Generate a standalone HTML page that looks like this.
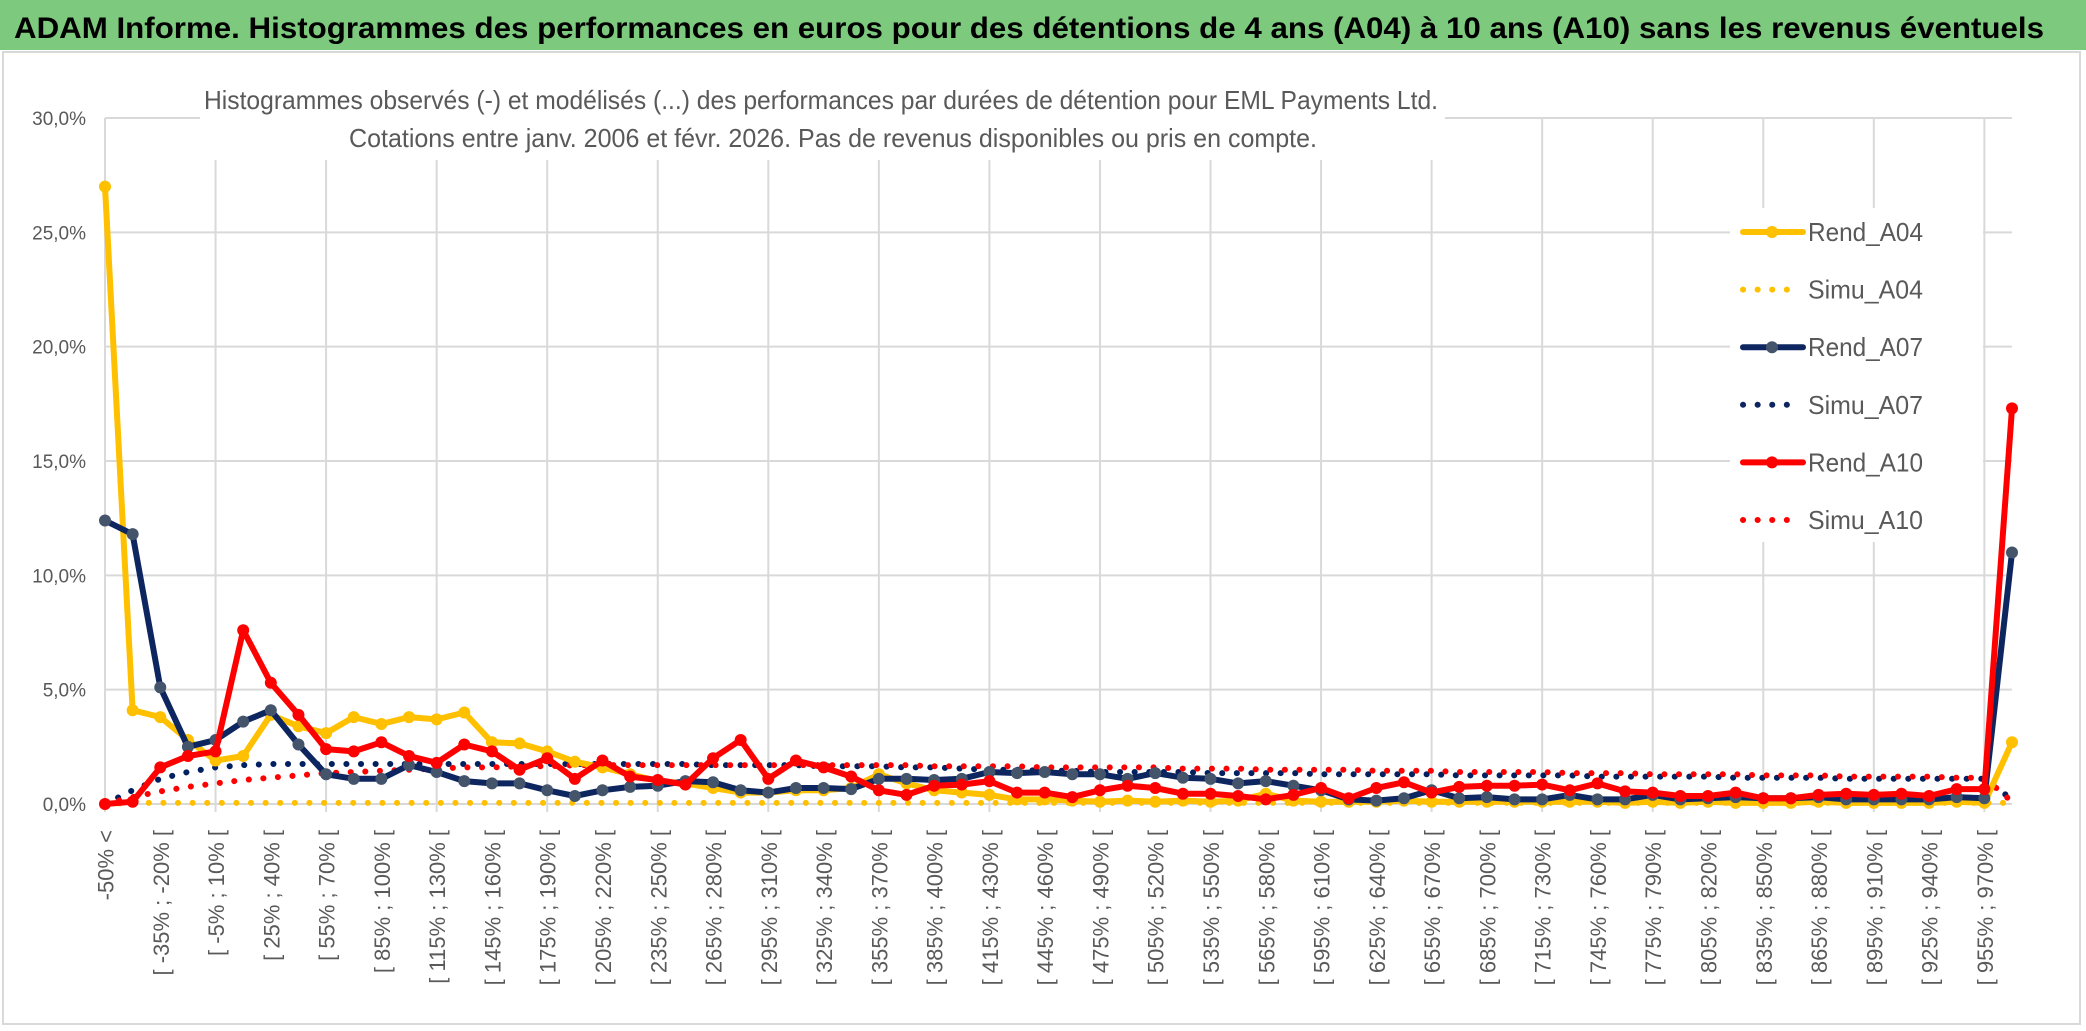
<!DOCTYPE html>
<html><head><meta charset="utf-8"><style>
html,body{margin:0;padding:0;background:#fff;}
svg{display:block;font-family:"Liberation Sans",sans-serif;}
</style></head><body>
<svg id="chart" width="2086" height="1031" viewBox="0 0 2086 1031">
<rect x="0" y="0" width="2086" height="1031" fill="#fff"/>
<rect x="0" y="0" width="2086" height="50" fill="#7DC97E"/>
<text x="14" y="38" font-size="30" font-weight="bold" fill="#000" textLength="2030" lengthAdjust="spacingAndGlyphs">ADAM Informe. Histogrammes des performances en euros pour des détentions de 4 ans (A04) à 10 ans (A10) sans les revenus éventuels</text>
<rect x="3" y="52" width="2077" height="972" fill="none" stroke="#d9d9d9" stroke-width="2"/>
<g id="grid"></g>
<rect x="200" y="60" width="1245" height="100" fill="#fff"/>
<text x="821" y="109" font-size="26" fill="#595959" text-anchor="middle" textLength="1234" lengthAdjust="spacingAndGlyphs">Histogrammes observés (-) et modélisés (...) des performances par durées de détention pour EML Payments Ltd.</text>
<text x="833" y="147" font-size="26" fill="#595959" text-anchor="middle" textLength="968" lengthAdjust="spacingAndGlyphs">Cotations entre janv. 2006 et févr. 2026. Pas de revenus disponibles ou pris en compte.</text>
<g id="yaxis"></g>
<g id="xaxis"></g>
<g id="series"></g>
<rect x="1730" y="208" width="253" height="334" fill="#fff"/>
<g id="legend"></g>
</svg>
<script>
const categories = (function(){const a=["-50% <"];for(let k=1;k<=69;k++){const lo=-50+15*(k-1);a.push("[ "+lo+"% ; "+(lo+15)+"% [");}return a;})();
const yTicks = [0,5,10,15,20,25,30];
const yTickLabels = ["0,0%","5,0%","10,0%","15,0%","20,0%","25,0%","30,0%"];
const rendA04 = [27.0,4.1,3.8,2.8,1.9,2.1,3.9,3.4,3.1,3.8,3.5,3.8,3.7,4.0,2.7,2.65,2.3,1.85,1.6,1.3,1.0,0.9,0.7,0.5,0.5,0.6,0.6,0.7,1.3,0.9,0.6,0.5,0.4,0.2,0.2,0.15,0.1,0.15,0.1,0.15,0.1,0.15,0.45,0.15,0.1,0.1,0.1,0.15,0.1,0.1,0.1,0.1,0.1,0.1,0.1,0.05,0.1,0.05,0.1,0.05,0.05,0.05,0.1,0.05,0.05,0.05,0.05,0.1,0.05,2.7];
const simuA04 = [0,0.05,0.05,0.05,0.05,0.05,0.05,0.05,0.05,0.05,0.05,0.05,0.05,0.05,0.05,0.05,0.05,0.05,0.05,0.05,0.05,0.05,0.05,0.05,0.05,0.05,0.05,0.05,0.05,0.05,0.05,0.05,0.05,0.05,0.05,0.05,0.05,0.05,0.05,0.05,0.05,0.05,0.05,0.05,0.05,0.05,0.05,0.05,0.05,0.05,0.05,0.05,0.05,0.05,0.05,0.05,0.05,0.05,0.05,0.05,0.05,0.05,0.05,0.05,0.05,0.05,0.05,0.05,0.05,0.05];
const rendA07 = [12.4,11.8,5.1,2.5,2.8,3.6,4.1,2.6,1.3,1.1,1.1,1.7,1.4,1.0,0.9,0.9,0.6,0.35,0.6,0.75,0.8,1.0,0.95,0.6,0.5,0.7,0.7,0.65,1.1,1.1,1.05,1.1,1.4,1.35,1.4,1.3,1.3,1.1,1.35,1.15,1.1,0.9,1.0,0.8,0.6,0.2,0.15,0.25,0.6,0.25,0.3,0.2,0.2,0.4,0.2,0.2,0.4,0.2,0.25,0.3,0.25,0.25,0.3,0.2,0.2,0.2,0.2,0.3,0.25,11.0];
const simuA07 = [0,0.6,1.1,1.4,1.6,1.7,1.75,1.75,1.75,1.75,1.75,1.75,1.75,1.75,1.75,1.75,1.75,1.75,1.75,1.75,1.75,1.75,1.7,1.7,1.7,1.7,1.65,1.65,1.65,1.6,1.6,1.55,1.5,1.5,1.45,1.45,1.4,1.4,1.4,1.4,1.35,1.35,1.35,1.35,1.3,1.3,1.3,1.3,1.3,1.25,1.25,1.25,1.25,1.25,1.2,1.2,1.2,1.2,1.2,1.15,1.15,1.15,1.15,1.1,1.1,1.1,1.1,1.1,1.1,0.2];
const rendA10 = [0.0,0.1,1.6,2.1,2.3,7.6,5.3,3.9,2.4,2.3,2.7,2.1,1.8,2.6,2.3,1.5,2.0,1.1,1.9,1.2,1.05,0.85,2.0,2.8,1.1,1.9,1.6,1.2,0.6,0.4,0.8,0.85,1.0,0.5,0.5,0.3,0.6,0.8,0.7,0.45,0.45,0.35,0.2,0.4,0.7,0.25,0.7,0.95,0.5,0.75,0.8,0.8,0.85,0.6,0.9,0.55,0.5,0.35,0.35,0.5,0.25,0.25,0.4,0.45,0.4,0.45,0.35,0.65,0.65,17.3];
const simuA10 = [0,0.3,0.55,0.75,0.9,1.05,1.15,1.25,1.35,1.4,1.45,1.5,1.55,1.6,1.6,1.65,1.65,1.7,1.7,1.7,1.7,1.7,1.7,1.7,1.7,1.7,1.7,1.7,1.7,1.7,1.65,1.65,1.65,1.65,1.6,1.6,1.6,1.6,1.6,1.55,1.55,1.55,1.5,1.5,1.5,1.5,1.45,1.45,1.45,1.4,1.4,1.4,1.4,1.35,1.35,1.35,1.3,1.3,1.3,1.3,1.25,1.25,1.25,1.2,1.2,1.2,1.2,1.15,1.15,0.1];
const seriesNames = ["Rend_A04","Simu_A04","Rend_A07","Simu_A07","Rend_A10","Simu_A10"];

const NS="http://www.w3.org/2000/svg";
const X0=105, X1=2012, Y0=804, YMAX=30, YTOP=118;
const n=categories.length;
function xs(i){return X0+(X1-X0)*i/(n-1);}
function ys(v){return Y0-(Y0-YTOP)*v/YMAX;}
function mk(tag,attrs,parent){const e=document.createElementNS(NS,tag);for(const k in attrs)e.setAttribute(k,attrs[k]);parent.appendChild(e);return e;}

const grid=document.getElementById('grid');
yTicks.forEach((t,i)=>{
  const l=mk('line',{x1:X0,x2:X1,y1:ys(t),y2:ys(t),stroke:'#d9d9d9','stroke-width':2},grid);
  
  
});
for(let i=0;i<n;i+=4){
  const l=mk('line',{x1:xs(i),x2:xs(i),y1:YTOP,y2:Y0+8,stroke:'#d9d9d9','stroke-width':2},grid);
  
  
}
const yaxis=document.getElementById('yaxis');
yTicks.forEach((t,i)=>{
  const tx=mk('text',{x:86,y:ys(t)+7,'font-size':19,fill:'#595959','text-anchor':'end'},yaxis);
  tx.textContent=yTickLabels[i];
  
  
});
const xaxis=document.getElementById('xaxis');
for(let i=0;i<n-1;i+=2){
  const x=xs(i)+1;
  const tx=mk('text',{x:0,y:0,'font-size':22,fill:'#595959','text-anchor':'end','dominant-baseline':'central',transform:'translate('+x+',830) rotate(-90)'},xaxis);
  tx.textContent=categories[i];
  
  
}
const sg=document.getElementById('series');
function pts(arr){return arr.map((v,i)=>xs(i).toFixed(1)+','+ys(v).toFixed(1)).join(' ');}
function dotted(arr,color,name){
  const p=mk('polyline',{points:pts(arr),fill:'none',stroke:color,'stroke-width':6,'stroke-linecap':'round','stroke-dasharray':'0.1 14.5'},sg);
  
  
}
function solid(arr,color,mcolor,name){
  const g=mk('g',{},sg);
  
  
  mk('polyline',{points:pts(arr),fill:'none',stroke:color,'stroke-width':6,'stroke-linejoin':'round'},g);
  arr.forEach((v,i)=>{
    const c=mk('circle',{cx:xs(i),cy:ys(v),r:6,fill:mcolor},g);
    
    
  });
}
dotted(simuA04,'#FFC000','simu-a04-line');
dotted(simuA07,'#002060','simu-a07-line');
dotted(simuA10,'#FF0000','simu-a10-line');
solid(rendA04,'#FFC000','#FFC000','rend-a04-line');
solid(rendA07,'#0E2660','#44546A','rend-a07-line');
solid(rendA10,'#FF0000','#FF0000','rend-a10-line');

const lg=document.getElementById('legend');
const lcolors=['#FFC000','#FFC000','#0E2660','#0E2660','#FF0000','#FF0000'];
const mcolors=['#FFC000','','#44546A','','#FF0000',''];
seriesNames.forEach((nm,i)=>{
  const y=232+i*57.6;
  const g=mk('g',{},lg);
  
  
  if(i%2===0){
    mk('line',{x1:1743,x2:1803,y1:y,y2:y,stroke:lcolors[i],'stroke-width':6,'stroke-linecap':'round'},g);
    mk('circle',{cx:1772,cy:y,r:6,fill:mcolors[i]},g);
  } else {
    mk('line',{x1:1743,x2:1800,y1:y,y2:y,stroke:lcolors[i],'stroke-width':6,'stroke-linecap':'round','stroke-dasharray':'0.1 14.5'},g);
  }
  const t=mk('text',{x:1808,y:y+9,'font-size':26,fill:'#595959',textLength:115,lengthAdjust:'spacingAndGlyphs'},g);
  t.textContent=nm;
});
</script>
</body></html>
